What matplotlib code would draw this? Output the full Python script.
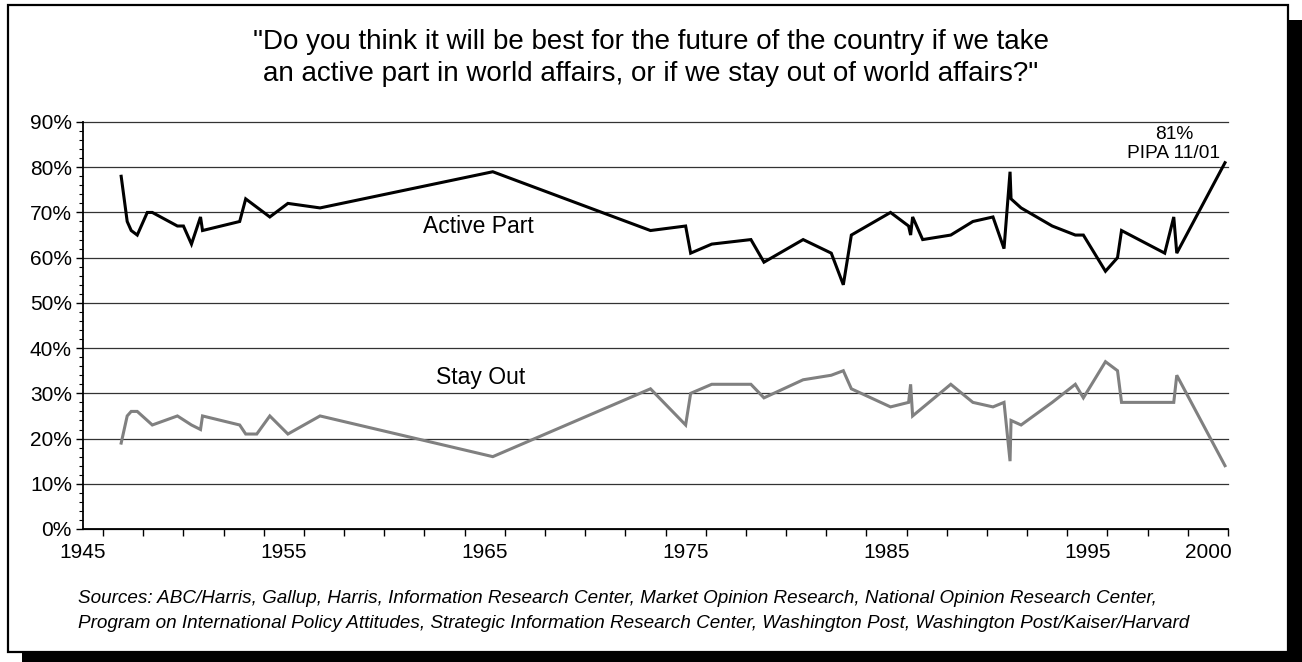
import numpy as np
import matplotlib
matplotlib.use("Agg")
import matplotlib.pyplot as plt
from matplotlib.patches import Rectangle
from matplotlib.ticker import MultipleLocator, FuncFormatter

plt.rcParams['font.family'] = ['Liberation Sans', 'DejaVu Sans']

# poll dates (decimal years) and percentages
active_years = [1946.9, 1947.2, 1947.4, 1947.7, 1948.2, 1948.45, 1949.7, 1950.0,
                1950.4, 1950.85, 1950.95, 1952.8, 1953.1, 1954.3, 1955.2, 1956.8,
                1965.4, 1973.25, 1975.0, 1975.25, 1976.3, 1978.25, 1978.9, 1980.85,
                1982.25, 1982.85, 1983.25, 1985.2, 1986.1, 1986.2, 1986.3, 1986.8,
                1988.2, 1989.3, 1990.3, 1990.85, 1991.15, 1991.2, 1991.7, 1993.25,
                1994.4, 1994.8, 1995.9, 1996.5, 1996.7, 1998.85, 1999.3, 1999.45,
                2001.85]
active_pct = [78, 68, 66, 65, 70, 70, 67, 67,
              63, 69, 66, 68, 73, 69, 72, 71,
              79, 66, 67, 61, 63, 64, 59, 64,
              61, 54, 65, 70, 67, 65, 69, 64,
              65, 68, 69, 62, 79, 73, 71, 67,
              65, 65, 57, 60, 66, 61, 69, 61,
              81]

stay_years = [1946.9, 1947.2, 1947.4, 1947.7, 1948.45, 1949.7, 1950.4, 1950.85,
              1950.95, 1952.8, 1953.1, 1953.65, 1954.3, 1955.2, 1956.8, 1965.4,
              1973.25, 1975.0, 1975.25, 1976.3, 1978.25, 1978.9, 1980.85, 1982.25,
              1982.85, 1983.25, 1985.2, 1986.1, 1986.2, 1986.3, 1988.2, 1989.3,
              1990.3, 1990.85, 1991.15, 1991.2, 1991.7, 1993.25, 1994.4, 1994.8,
              1995.9, 1996.5, 1996.7, 1999.3, 1999.45, 2001.85]
stay_pct = [19, 25, 26, 26, 23, 25, 23, 22,
            25, 23, 21, 21, 25, 21, 25, 16,
            31, 23, 30, 32, 32, 29, 33, 34,
            35, 31, 27, 28, 32, 25, 32, 28,
            27, 28, 15, 24, 23, 28, 32, 29,
            37, 35, 28, 28, 34, 14]

year_ticks = [1945, 1955, 1965, 1975, 1985, 1995, 2001]
year_labels = ['1945', '1955', '1965', '1975', '1985', '1995', '2000']

title_lines = ['"Do you think it will be best for the future of the country if we take',
               'an active part in world affairs, or if we stay out of world affairs?"']
sources_lines = ['Sources: ABC/Harris, Gallup, Harris, Information Research Center, '
                 'Market Opinion Research, National Opinion Research Center,',
                 'Program on International Policy Attitudes, Strategic Information '
                 'Research Center, Washington Post, Washington Post/Kaiser/Harvard']

W, H = 1302, 662
fig = plt.figure(figsize=(W / 100, H / 100), dpi=100, facecolor='white')

# drop shadow + framed panel, in pixel terms
fig.patches.append(Rectangle((22 / W, -0.1), 1.0, 0.1 + 642 / H,
                             transform=fig.transFigure, facecolor='black',
                             edgecolor='none', zorder=-3))
fig.patches.append(Rectangle((8 / W, 10 / H), 1280 / W, 647 / H,
                             transform=fig.transFigure, facecolor='white',
                             edgecolor='black', linewidth=1.6, zorder=-2))

ax = fig.add_axes([83 / W, 133 / H, 1145 / W, 407 / H])
ax.set_facecolor('none')

ax.plot(active_years, active_pct, color='black', lw=2.2, solid_joinstyle='miter', zorder=3)
ax.plot(stay_years, stay_pct, color='#808080', lw=2.2, solid_joinstyle='miter', zorder=3)

ax.set_xlim(1945, 2002)
ax.set_ylim(0, 90)

ax.yaxis.set_major_locator(MultipleLocator(10))
ax.yaxis.set_minor_locator(MultipleLocator(2))
ax.yaxis.set_major_formatter(FuncFormatter(lambda v, p: f'{v:.0f}%'))
ax.xaxis.set_major_locator(MultipleLocator(2))
ax.set_xticks(year_ticks, year_labels, minor=True)
ax.xaxis.set_major_formatter(FuncFormatter(lambda v, p: ''))

ax.tick_params(axis='y', which='major', length=5, width=1, labelsize=15, pad=3)
ax.tick_params(axis='y', which='minor', length=3, width=0.8)
ax.tick_params(axis='x', which='major', length=5, width=1, direction='out')
ax.tick_params(axis='x', which='minor', length=0, labelsize=15, pad=10)

ax.yaxis.grid(True, which='major', color='#333333', lw=0.9)
for gl in ax.get_ygridlines():
    gl.set_clip_on(False)

for side in ('top', 'right'):
    ax.spines[side].set_visible(False)
for side in ('left', 'bottom'):
    ax.spines[side].set_linewidth(1.3)

ax.text(1964.66, 66.8, 'Active Part', fontsize=16.5, ha='center', va='center')
ax.text(1964.8, 33.6, 'Stay Out', fontsize=16.5, ha='center', va='center')
ax.text(1999.3, 85.1, '81%\nPIPA 11/01', fontsize=13.8, ha='center', va='center',
        linespacing=1.2)

fig.text(0.5, 1 - 49 / H, title_lines[0], fontsize=20, ha='center', va='baseline')
fig.text(0.5, 1 - 81 / H, title_lines[1], fontsize=20, ha='center', va='baseline')
fig.text(78 / W, 1 - 603 / H, sources_lines[0], fontsize=13.6, style='italic',
         ha='left', va='baseline')
fig.text(78 / W, 1 - 628 / H, sources_lines[1], fontsize=13.6, style='italic',
         ha='left', va='baseline')

fig.savefig('out.png', dpi=100, facecolor='white')
